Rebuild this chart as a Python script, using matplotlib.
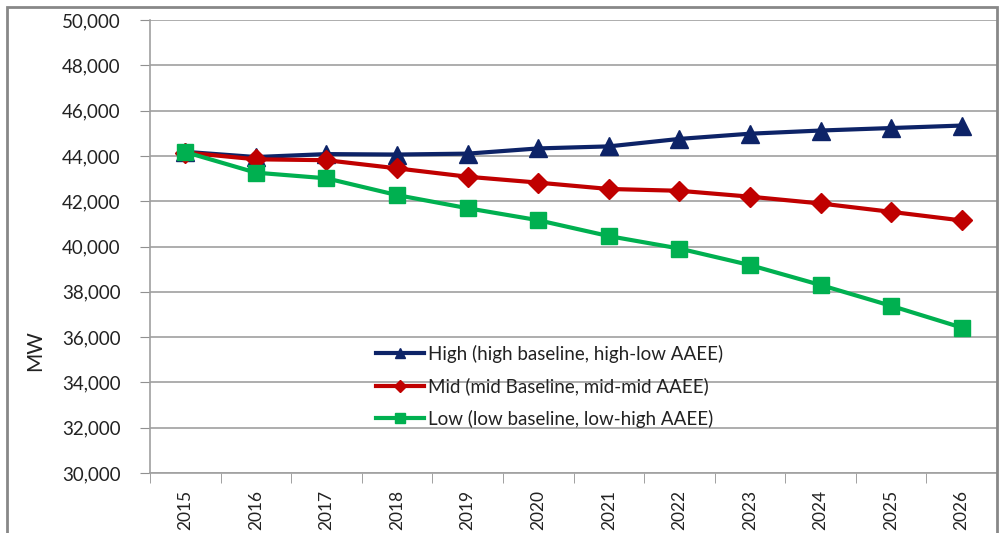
import matplotlib
matplotlib.use("Agg")
import matplotlib.pyplot as plt
from matplotlib.ticker import FuncFormatter, FixedLocator
from matplotlib.patches import Rectangle

# data
years = ['2015', '2016', '2017', '2018', '2019', '2020',
         '2021', '2022', '2023', '2024', '2025', '2026']
high = [44180, 43950, 44080, 44060, 44100, 44330,
        44420, 44750, 44980, 45120, 45230, 45340]
mid = [44150, 43850, 43810, 43450, 43080, 42820,
       42540, 42460, 42200, 41900, 41530, 41150]
low = [44170, 43260, 43010, 42270, 41690, 41160,
       40460, 39910, 39180, 38300, 37380, 36420]
labels = ['High (high baseline, high-low AAEE)',
          'Mid (mid Baseline, mid-mid AAEE)',
          'Low (low baseline, low-high AAEE)']

plt.rcParams['font.family'] = ['Lato', 'DejaVu Sans']

fig = plt.figure(figsize=(10.05, 5.33), dpi=100)
W, H = 1005, 533
ax = fig.add_axes([150 / W, 1 - 473 / H, 847 / W, 453 / H])

x = list(range(len(years)))
ax.plot(x, high, color='#0d2367', lw=3, marker='^', ms=13, label=labels[0], zorder=3)
ax.plot(x, mid, color='#c00000', lw=3, marker='D', ms=10, label=labels[1], zorder=4)
ax.plot(x, low, color='#00b050', lw=3, marker='s', ms=12, label=labels[2], zorder=5)

ax.set_xlim(-0.5, len(years) - 0.5)
ax.set_ylim(30000, 50000)
ax.set_yticks(range(30000, 50001, 2000))
ax.yaxis.set_major_formatter(FuncFormatter(lambda v, p: f'{int(v):,}'))
ax.grid(axis='y', color='#a0a0a0', lw=1.2, zorder=0)

ax.set_xticks(x)
ax.set_xticklabels(years, rotation=90, fontsize=12.5, color='#222222')
ax.xaxis.set_minor_locator(FixedLocator([i - 0.5 for i in range(len(years) + 1)]))
ax.tick_params(axis='x', which='major', length=0, pad=12)
ax.tick_params(axis='x', which='minor', length=7, color='#909090')
ax.tick_params(axis='y', length=7, color='#909090', labelsize=13.5,
               labelcolor='#222222', pad=14)

for s in ['top', 'right']:
    ax.spines[s].set_visible(False)
ax.spines['left'].set_color('#a0a0a0')
ax.spines['bottom'].set_color('#a0a0a0')
ax.spines['left'].set_linewidth(1.2)
ax.spines['bottom'].set_linewidth(1.2)

ax.set_ylabel('MW', fontsize=15, color='#222222')
ax.yaxis.set_label_coords(-0.124, 0.27)

ax.legend(loc='upper left', bbox_to_anchor=((368 - 150) / 847, (473 - 337) / 453),
          frameon=False, fontsize=13.5, handlelength=2.6, handletextpad=0.2,
          labelspacing=0.78, markerscale=0.6, borderaxespad=0, labelcolor='#222222')

# outer chart border
fig.add_artist(Rectangle((7 / W, -0.05), (990) / W, 1 - 7 / H + 0.05,
                         transform=fig.transFigure, fill=False,
                         edgecolor='#888888', lw=2))

fig.savefig('out.png', dpi=100)
